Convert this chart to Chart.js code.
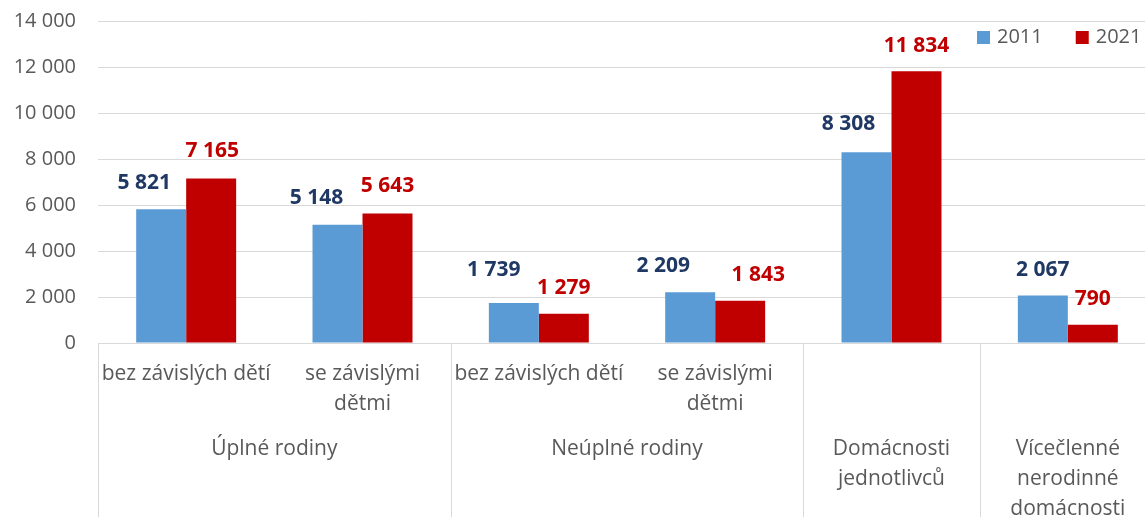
<!DOCTYPE html>
<html>
<head>
<meta charset="utf-8">
<script src="https://cdn.jsdelivr.net/npm/chart.js@4"></script>
<style>
    html, body { margin: 0; padding: 0; background: #ffffff; overflow: hidden; }
    #wrap { width: 1160px; height: 517px; }
</style>
</head>
<body>
<div id="wrap"><canvas id="householdChart"></canvas></div>
<script>
// data
const categories = [
    'Úplné rodiny – bez závislých dětí',
    'Úplné rodiny – se závislými dětmi',
    'Neúplné rodiny – bez závislých dětí',
    'Neúplné rodiny – se závislými dětmi',
    'Domácnosti jednotlivců',
    'Vícečlenné nerodinné domácnosti'
];
const subLabels = [
    ['bez závislých dětí'],
    ['se závislými', 'dětmi'],
    ['bez závislých dětí'],
    ['se závislými', 'dětmi'],
    [],
    []
];
const groupLabels = [
    ['Úplné rodiny'],
    ['Neúplné rodiny'],
    ['Domácnosti', 'jednotlivců'],
    ['Vícečlenné', 'nerodinné', 'domácnosti']
];
const groupSpans = [2, 2, 1, 1];
const values2011 = [5821, 5148, 1739, 2209, 8308, 2067];
const values2021 = [7165, 5643, 1279, 1843, 11834, 790];
const yTicks = [0, 2000, 4000, 6000, 8000, 10000, 12000, 14000];

const colors = {
    bar2011: '#5b9bd5',
    bar2021: '#c00000',
    label2011: '#1f3864',
    label2021: '#c00000',
    text: '#595959',
    grid: '#d9d9d9'
};
const FONT = '"Open Sans", "Noto Sans", sans-serif';

// hand placed label nudges (px), like in the original sheet
const labelShiftX = [[-17, -21, -20, -27, -18, 0], [1, 0, 0, 18, 0, 0]];
const labelShiftY = [[0, 1, 7, 0, 2, 0], [1, 1, 0, 0, -1, 0]];

const fmt = n => String(n).replace(/\B(?=(\d{3})+(?!\d))/g, ' ');

const excelAxis = {
    id: 'excelAxis',
    afterDatasetsDraw(chart) {
        const {ctx, chartArea, scales: {x}} = chart;
        const catW = x.width / categories.length;
        ctx.save();

        // value labels
        ctx.textAlign = 'center';
        ctx.textBaseline = 'middle';
        ctx.font = `bold 21px ${FONT}`;
        chart.data.datasets.forEach((ds, di) => {
            ctx.fillStyle = di === 0 ? colors.label2011 : colors.label2021;
            chart.getDatasetMeta(di).data.forEach((bar, i) => {
                ctx.fillText(fmt(ds.data[i]), bar.x + labelShiftX[di][i], bar.y - 26 - labelShiftY[di][i]);
            });
        });

        // first level category labels
        ctx.fillStyle = colors.text;
        ctx.font = `21px ${FONT}`;
        subLabels.forEach((lines, i) => {
            const cx = x.getPixelForValue(i);
            lines.forEach((t, k) => ctx.fillText(t, cx, chartArea.bottom + 31 + k * 30));
        });

        // group labels + separators
        ctx.strokeStyle = colors.grid;
        ctx.lineWidth = 1;
        let start = 0;
        groupSpans.forEach((span, g) => {
            const left = x.getPixelForValue(start) - catW / 2;
            const right = x.getPixelForValue(start + span - 1) + catW / 2;
            const cx = (left + right) / 2;
            groupLabels[g].forEach((t, k) => ctx.fillText(t, cx, chartArea.bottom + 106 + k * 30));
            [left, right].forEach(px => {
                const lx = Math.round(px) + 0.5;
                ctx.beginPath();
                ctx.moveTo(lx, chartArea.bottom);
                ctx.lineTo(lx, chart.height);
                ctx.stroke();
            });
            start += span;
        });

        // legend
        ctx.textAlign = 'left';
        ctx.font = `20px ${FONT}`;
        let lx = chartArea.right - 179;
        const ly = chartArea.top + 16;
        chart.data.datasets.forEach(ds => {
            ctx.fillStyle = ds.backgroundColor;
            ctx.fillRect(lx, ly - 6.5, 13, 13);
            ctx.fillStyle = colors.text;
            ctx.fillText(ds.label, lx + 20, ly);
            lx += 20 + ctx.measureText(ds.label).width + 33;
        });

        ctx.restore();
    }
};

const ctx = document.getElementById('householdChart').getContext('2d');
new Chart(ctx, {
    type: 'bar',
    data: {
        labels: categories,
        datasets: [
            { label: '2011', data: values2011, backgroundColor: colors.bar2011 },
            { label: '2021', data: values2021, backgroundColor: colors.bar2021 }
        ]
    },
    options: {
        responsive: true,
        maintainAspectRatio: false,
        animation: false,
        categoryPercentage: 0.567,
        barPercentage: 1,
        layout: { padding: { top: 21.5, right: 4, bottom: 166, left: 0 } },
        plugins: {
            legend: { display: false },
            tooltip: { enabled: false }
        },
        scales: {
            x: {
                grid: { display: false },
                border: { display: false },
                ticks: { display: false }
            },
            y: {
                min: 0,
                max: 14000,
                afterBuildTicks: scale => { scale.ticks = yTicks.map(v => ({ value: v })); },
                afterFit: scale => { scale.width = 98; },
                grid: { color: colors.grid, drawTicks: true, tickLength: 22, tickColor: 'rgba(0,0,0,0)' },
                border: { display: false },
                ticks: {
                    padding: 0,
                    color: colors.text,
                    font: { family: FONT, size: 20 },
                    callback: v => fmt(v)
                }
            }
        }
    },
    plugins: [excelAxis]
});
</script>
</body>
</html>
